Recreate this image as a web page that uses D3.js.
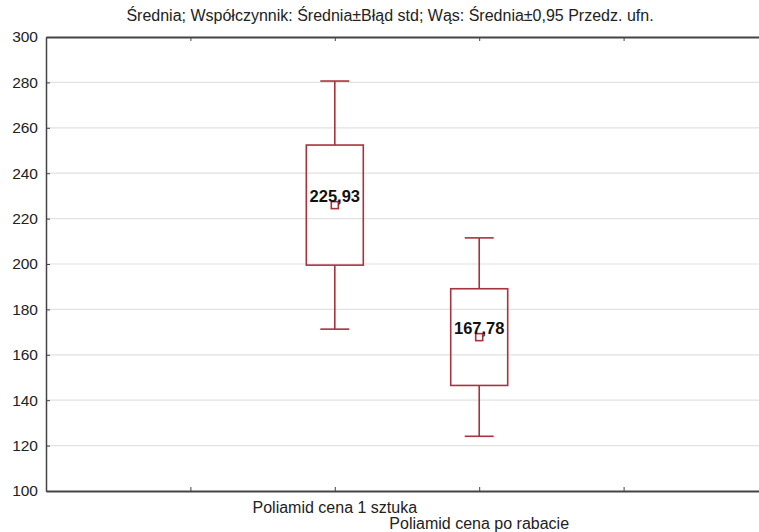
<!DOCTYPE html>
<html>
<head>
<meta charset="utf-8">
<script src="https://cdn.jsdelivr.net/npm/d3@7"></script>
<style>
  body { margin: 0; background: #fff; }
  text { font-family: "Liberation Sans", Arial, sans-serif; }
</style>
</head>
<body>
<svg id="chart" width="759" height="532"></svg>
<script>
const title = "Średnia; Współczynnik: Średnia±Błąd std; Wąs: Średnia±0,95 Przedz. ufn.";
const categories = ["Poliamid cena 1 sztuka", "Poliamid cena po rabacie"];
const means = [225.93, 167.78];
const boxLow = [199.5, 146.5];
const boxHigh = [252.4, 189.1];
const whiskerLow = [171.3, 124.1];
const whiskerHigh = [280.6, 211.5];
const meanLabels = ["225,93", "167,78"];
const yTicks = [100, 120, 140, 160, 180, 200, 220, 240, 260, 280, 300];
const xTickSlots = [1, 2, 3, 4];

(function () {
const svg = d3.select("#chart");
const mLeft = 46, mTop = 37, mBottom = 491, mRight = 768;
const color = "#a8323e";

const y = d3.scaleLinear().domain([100, 300]).range([mBottom, mTop]);
const x = d3.scaleLinear().domain([0, 5]).range([mLeft, mRight]);
const pos = i => x(i + 2);

// gridlines
svg.append("g").selectAll("line").data(yTicks.filter(t => t > 100 && t < 300)).join("line")
  .attr("x1", mLeft).attr("x2", 759).attr("y1", d => y(d)).attr("y2", d => y(d))
  .attr("stroke", "#e2e2e2").attr("stroke-width", 1.2);

// left axis
const yAxis = d3.axisLeft(y).tickValues(yTicks).tickSize(-4).tickSizeOuter(0).tickPadding(10);
const gy = svg.append("g").attr("transform", `translate(${mLeft},0)`).call(yAxis);
gy.select(".domain").attr("stroke", "#444").attr("stroke-width", 1.5);
gy.selectAll(".tick line").attr("stroke", "#444");
gy.selectAll("text").attr("font-size", "15.5px").attr("fill", "#222").attr("x", -8);

// top and bottom axis lines
const xTop = d3.axisTop(x).tickValues(xTickSlots).tickSize(-4).tickSizeOuter(0).tickFormat("");
const gt = svg.append("g").attr("transform", `translate(0,${mTop})`).call(xTop);
gt.select(".domain").attr("stroke", "#444").attr("stroke-width", 2);
gt.selectAll(".tick line").attr("stroke", "#444");

const xBot = d3.axisBottom(x).tickValues(xTickSlots).tickSize(-4).tickSizeOuter(0).tickFormat("");
const gb = svg.append("g").attr("transform", `translate(0,${mBottom})`).call(xBot);
gb.select(".domain").attr("stroke", "#444").attr("stroke-width", 2);
gb.selectAll(".tick line").attr("stroke", "#444");

// category labels (staggered)
svg.append("g").selectAll("text").data(categories).join("text")
  .attr("x", (d, i) => pos(i))
  .attr("y", (d, i) => i === 0 ? 513 : 529)
  .attr("text-anchor", "middle").attr("font-size", "16px").attr("fill", "#222")
  .text(d => d);

// boxes
const bw = 57, cw = 29;
const g = svg.append("g").attr("stroke", color).attr("stroke-width", 1.6).attr("fill", "none");
categories.forEach((c, i) => {
  const cx = pos(i);
  g.append("line").attr("x1", cx).attr("x2", cx).attr("y1", y(whiskerHigh[i])).attr("y2", y(boxHigh[i]));
  g.append("line").attr("x1", cx).attr("x2", cx).attr("y1", y(boxLow[i])).attr("y2", y(whiskerLow[i]));
  g.append("line").attr("x1", cx - cw / 2).attr("x2", cx + cw / 2).attr("y1", y(whiskerHigh[i])).attr("y2", y(whiskerHigh[i]));
  g.append("line").attr("x1", cx - cw / 2).attr("x2", cx + cw / 2).attr("y1", y(whiskerLow[i])).attr("y2", y(whiskerLow[i]));
  g.append("rect").attr("x", cx - bw / 2).attr("width", bw)
    .attr("y", y(boxHigh[i])).attr("height", y(boxLow[i]) - y(boxHigh[i]));
  g.append("rect").attr("x", cx - 3.5).attr("y", y(means[i]) - 3.5).attr("width", 7).attr("height", 7)
    .attr("fill", "#fff");
  svg.append("text").attr("x", cx).attr("y", y(means[i]) - 3)
    .attr("text-anchor", "middle").attr("font-size", "16.5px").attr("font-weight", "bold")
    .attr("fill", "#111").text(meanLabels[i]);
});

// title
svg.append("text").attr("x", 390).attr("y", 21).attr("text-anchor", "middle")
  .attr("font-size", "16px").attr("fill", "#222").text(title);
})();
</script>
</body>
</html>
